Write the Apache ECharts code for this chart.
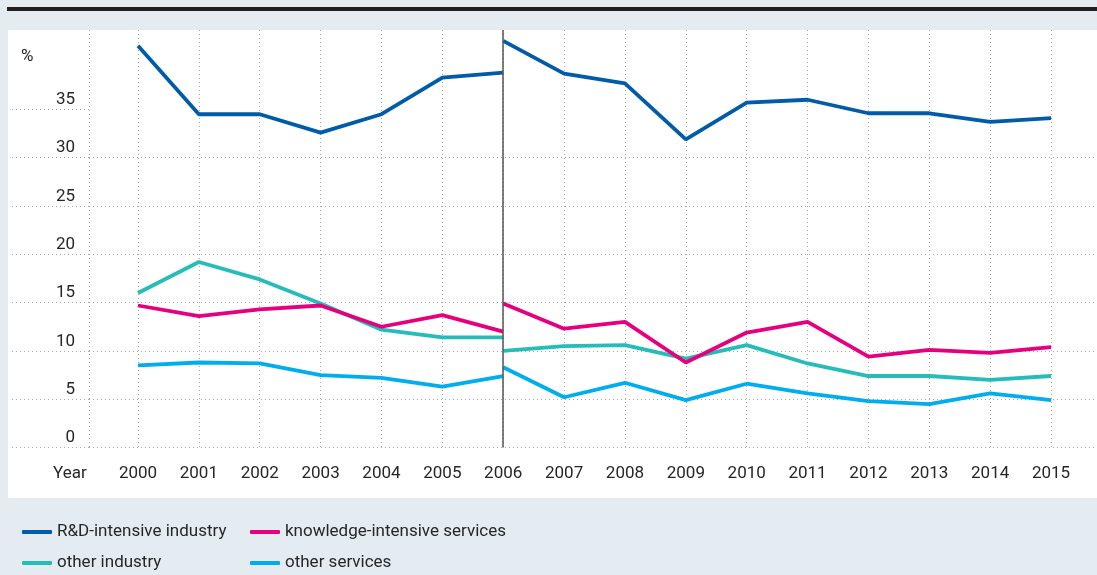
<!DOCTYPE html>
<html>

<head>
    <meta charset="utf-8">
    <script src="https://cdn.jsdelivr.net/npm/echarts@6/dist/echarts.min.js"></script>
    <style>
        html, body { margin: 0; padding: 0; background: #e4ecf2; }
    </style>
</head>

<body>
    <div id="main" style="width: 1097px;height:575px;"></div>

    <script type="text/javascript">
        // years, split at 2006 (the series break there)
        var yearsBefore = [2000, 2001, 2002, 2003, 2004, 2005, 2006];
        var yearsAfter = [2006, 2007, 2008, 2009, 2010, 2011, 2012, 2013, 2014, 2015];
        var yTicks = [0, 5, 10, 15, 20, 25, 30, 35];

        var rdIndustryBefore = [41.6, 34.5, 34.5, 32.6, 34.5, 38.3, 38.8];
        var rdIndustryAfter = [42.1, 38.7, 37.7, 31.9, 35.7, 36.0, 34.6, 34.6, 33.7, 34.1];
        var knowServicesBefore = [14.7, 13.6, 14.3, 14.7, 12.5, 13.7, 12.0];
        var knowServicesAfter = [14.9, 12.3, 13.0, 8.8, 11.9, 13.0, 9.4, 10.1, 9.8, 10.4];
        var otherIndustryBefore = [16.0, 19.2, 17.4, 14.9, 12.2, 11.4, 11.4];
        var otherIndustryAfter = [10.0, 10.5, 10.6, 9.2, 10.6, 8.7, 7.4, 7.4, 7.0, 7.4];
        var otherServicesBefore = [8.5, 8.8, 8.7, 7.5, 7.2, 6.3, 7.4];
        var otherServicesAfter = [8.3, 5.2, 6.7, 4.9, 6.6, 5.6, 4.8, 4.5, 5.6, 4.9];

        var font = 'Roboto, sans-serif';
        var textColor = '#262626';
        var gridColor = '#a8a8a8';

        function pairs(xs, ys) {
            return xs.map(function(x, i) { return [x, ys[i]]; });
        }

        function line(name, color, xs, ys, extra) {
            var s = {
                name: name,
                type: 'line',
                data: pairs(xs, ys),
                symbol: 'none',
                lineStyle: { color: color, width: 3.8 },
                itemStyle: { color: color },
                silent: true
            };
            if (extra) Object.assign(s, extra);
            return s;
        }

        function legendItem(name, left, top) {
            return {
                left: left,
                top: top,
                itemWidth: 30,
                itemHeight: 4,
                icon: 'roundRect',
                data: [name],
                textStyle: { fontFamily: font, fontSize: 17, color: textColor, lineHeight: 20 }
            };
        }

        var myChart = echarts.init(document.getElementById('main'));

        var option = {
            animation: false,
            backgroundColor: '#e4ecf2',
            graphic: [{
                type: 'rect',
                z: -10,
                shape: { x: 7, y: 7, width: 1090, height: 4 },
                style: { fill: '#231f20' }
            }, {
                type: 'rect',
                z: -10,
                shape: { x: 8, y: 30, width: 1089, height: 468 },
                style: { fill: '#ffffff' }
            }],
            title: [{
                text: '%',
                left: 21,
                top: 48,
                padding: 0,
                textStyle: { fontFamily: font, fontSize: 17, fontWeight: 'normal', color: textColor }
            }, {
                text: 'Year',
                left: 53,
                top: 465,
                padding: 0,
                textStyle: { fontFamily: font, fontSize: 17, fontWeight: 'normal', color: textColor }
            }],
            legend: [
                legendItem('R&D-intensive industry', 17, 517),
                legendItem('other industry', 17, 548),
                legendItem('knowledge-intensive services', 245, 517),
                legendItem('other services', 245, 548)
            ],
            grid: {
                left: 89,
                right: 0,
                top: 30,
                bottom: 127.5,
                containLabel: false
            },
            xAxis: {
                type: 'value',
                min: 1999.195,
                max: 2015.755,
                minInterval: 1,
                maxInterval: 1,
                splitNumber: 16,
                axisLine: { show: false },
                axisTick: { show: false },
                axisLabel: {
                    margin: 18,
                    fontFamily: font,
                    fontSize: 17,
                    color: textColor,
                    showMinLabel: false,
                    showMaxLabel: false,
                    formatter: function(v) {
                        return Math.abs(v - Math.round(v)) < 1e-6 ? String(Math.round(v)) : '';
                    }
                },
                splitLine: {
                    show: true,
                    showMinLine: true,
                    showMaxLine: false,
                    lineStyle: { color: gridColor, type: [1, 3], width: 1 }
                }
            },
            yAxis: {
                type: 'value',
                min: 0,
                max: 43.22,
                minInterval: 5,
                maxInterval: 5,
                splitNumber: 9,
                axisLine: { show: false },
                axisTick: {
                    show: true,
                    length: 77,
                    customValues: yTicks,
                    lineStyle: { color: gridColor, type: [1, 3], width: 1 }
                },
                axisLabel: {
                    margin: 14,
                    customValues: yTicks,
                    verticalAlign: 'bottom',
                    padding: [0, 0, 1, 0],
                    fontFamily: font,
                    fontSize: 17,
                    color: textColor
                },
                splitLine: {
                    show: true,
                    showMaxLine: false,
                    lineStyle: { color: gridColor, type: [1, 3], width: 1 }
                }
            },
            series: [
                line('R&D-intensive industry', '#005ca9', yearsBefore, rdIndustryBefore, {
                    markLine: {
                        silent: true,
                        symbol: ['none', 'none'],
                        label: { show: false },
                        lineStyle: { color: '#555', type: 'solid', width: 1.5 },
                        data: [{ xAxis: 2006 }]
                    }
                }),
                line('R&D-intensive industry', '#005ca9', yearsAfter, rdIndustryAfter),
                line('other industry', '#26bdb8', yearsBefore, otherIndustryBefore),
                line('other industry', '#26bdb8', yearsAfter, otherIndustryAfter),
                line('knowledge-intensive services', '#e6007e', yearsBefore, knowServicesBefore),
                line('knowledge-intensive services', '#e6007e', yearsAfter, knowServicesAfter),
                line('other services', '#00aeef', yearsBefore, otherServicesBefore),
                line('other services', '#00aeef', yearsAfter, otherServicesAfter)
            ]
        };
        myChart.setOption(option);
    </script>
</body>

</html>
